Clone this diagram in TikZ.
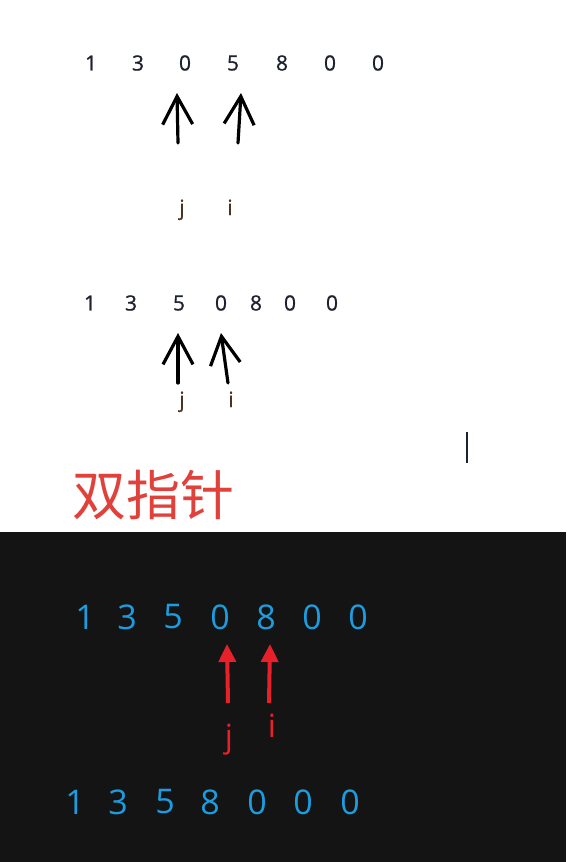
\documentclass[tikz,border=0pt]{standalone}
\usepackage{fontspec}
\setmainfont{Open Sans}
\newfontfamily\topfont[FakeBold=0.8]{Open Sans}
\newfontfamily\cjkfont{Noto Sans CJK SC}
\usetikzlibrary{arrows.meta}
\definecolor{darkbg}{HTML}{141414}
\definecolor{digitdark}{HTML}{1E2230}
\definecolor{labeldark}{HTML}{4A3320}
\definecolor{bluedigit}{HTML}{1C9DE0}
\definecolor{redmark}{HTML}{E8202A}
\definecolor{redtitle}{HTML}{E0413B}
\tikzset{
  topdigit/.style={inner sep=0pt, text=digitdark, font=\topfont\fontsize{21}{21}\selectfont},
  toplabel/.style={inner sep=0pt, anchor=base, text=labeldark, font=\topfont\fontsize{21}{21}\selectfont},
  botdigit/.style={inner sep=0pt, text=bluedigit, font=\fontsize{34}{34}\selectfont},
  botlabel/.style={inner sep=0pt, anchor=base, text=redmark, font=\fontsize{32}{32}\selectfont},
  blackarrow/.style={-{Straight Barb[length=28pt,width=30pt,line width=3.2pt]}, line width=3.2pt, draw=black, line cap=round},
  redarrow/.style={-{Triangle[length=18pt,width=17pt]}, line width=4pt, draw=redmark, fill=redmark},
}
\begin{document}
\begin{tikzpicture}[x=1pt,y=-1pt]
\useasboundingbox (0,0) rectangle (566,862);
\fill[white] (0,0) rectangle (566,532);
\fill[darkbg] (0,532) rectangle (566,862);

% row 1
\node[topdigit] (a1) at (91,63) {1};
\node[topdigit] (a2) at (138,63) {3};
\node[topdigit] (a3) at (185,63) {0};
\node[topdigit] (a4) at (233,63) {5};
\node[topdigit] (a5) at (282,63) {8};
\node[topdigit] (a6) at (330,63) {0};
\node[topdigit] (a7) at (378,63) {0};
\coordinate (a3tip) at (177,93);
\coordinate (a3tail) at (178,143);
\coordinate (a4tip) at (241,93);
\coordinate (a4tail) at (238,143);
\draw[blackarrow] (a3tail) -- (a3tip);
\draw[blackarrow] (a4tail) -- (a4tip);
\node[toplabel] (aj) at (182,215) {j};
\node[toplabel] (ai) at (230,215) {i};

% row 2
\node[topdigit] (b1) at (90,303) {1};
\node[topdigit] (b2) at (131,303) {3};
\node[topdigit] (b3) at (179,303) {5};
\node[topdigit] (b4) at (221,303) {0};
\node[topdigit] (b5) at (256,303) {8};
\node[topdigit] (b6) at (290,303) {0};
\node[topdigit] (b7) at (332,303) {0};
\coordinate (b3tip) at (178,333);
\coordinate (b3tail) at (178,383);
\coordinate (b4tip) at (221,333);
\coordinate (b4tail) at (228,383);
\draw[blackarrow] (b3tail) -- (b3tip);
\draw[blackarrow] (b4tail) -- (b4tip);
\node[toplabel] (bj) at (182,407) {j};
\node[toplabel] (bi) at (231,407) {i};

% cursor
\coordinate (curtop) at (467,432);
\coordinate (curbot) at (467,463);
\draw[line width=2pt, draw=digitdark] (curtop) -- (curbot);

% title
\node[inner sep=0pt, text=redtitle, font=\cjkfont\fontsize{54}{54}\selectfont] (title) at (153,495) {双指针};

% row 3
\node[botdigit] (c1) at (85,617) {1};
\node[botdigit] (c2) at (127,617) {3};
\node[botdigit] (c3) at (173,617) {5};
\node[botdigit] (c4) at (220,617) {0};
\node[botdigit] (c5) at (266,617) {8};
\node[botdigit] (c6) at (312,617) {0};
\node[botdigit] (c7) at (358,617) {0};
\coordinate (c4tip) at (227,644);
\coordinate (c4tail) at (228,703);
\coordinate (c5tip) at (270,644);
\coordinate (c5tail) at (269,703);
\draw[redarrow] (c4tail) -- (c4tip);
\draw[redarrow] (c5tail) -- (c5tip);
\node[botlabel] (cj) at (229,747) {j};
\node[botlabel] (ci) at (272,737) {i};

% row 4
\node[botdigit] (d1) at (75,802) {1};
\node[botdigit] (d2) at (118,802) {3};
\node[botdigit] (d3) at (165,802) {5};
\node[botdigit] (d4) at (210,802) {8};
\node[botdigit] (d5) at (257,802) {0};
\node[botdigit] (d6) at (303,802) {0};
\node[botdigit] (d7) at (350,802) {0};
\end{tikzpicture}
\end{document}
